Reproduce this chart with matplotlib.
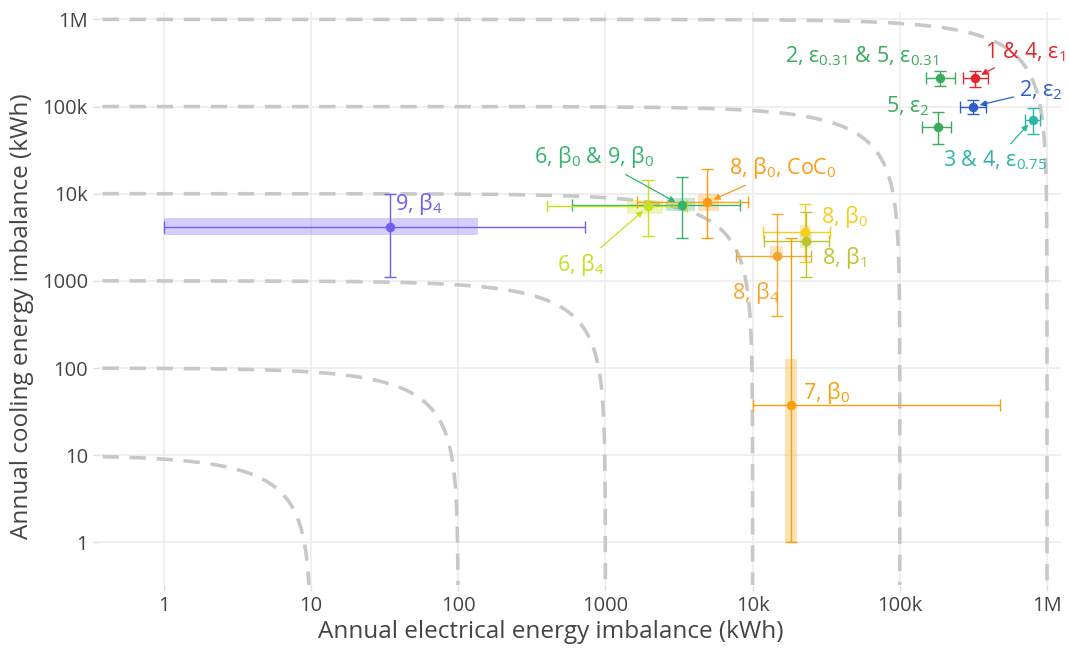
import numpy as np
import matplotlib
matplotlib.use("Agg")
import matplotlib.pyplot as plt
from matplotlib.patches import Rectangle

plt.rcParams['font.family'] = ['Open Sans', 'DejaVu Sans']
plt.rcParams['mathtext.fontset'] = 'custom'
plt.rcParams['mathtext.rm'] = 'Open Sans'
plt.rcParams['mathtext.it'] = 'Open Sans'
plt.rcParams['mathtext.default'] = 'regular'

# ---------------- data ----------------
labels = ["1 & 4, $ε_{1}$", "2, $ε_{2}$", "2, $ε_{0.31}$ & 5, $ε_{0.31}$", "5, $ε_{2}$",
          "3 & 4, $ε_{0.75}$", "6, $β_{0}$ & 9, $β_{0}$", "6, $β_{4}$", "8, $β_{0}$, CoC$_{0}$",
          "8, $β_{0}$", "8, $β_{1}$", "8, $β_{4}$", "7, $β_{0}$", "9, $β_{4}$"]
colors = ["#e3262c", "#2f5fc4", "#3aab5a", "#3aab5a", "#2db5a6", "#33b56c", "#c6e01c",
          "#ff9a12", "#f8cc1c", "#bcc42c", "#f2a630", "#f5a00c", "#6e5ff2"]
x_val = [324e3, 314e3, 187e3, 182e3, 803e3, 3290, 1960, 4920, 22.6e3, 22.9e3, 14.6e3, 18.1e3, 34.5]
y_val = [213e3, 100e3, 210e3, 59e3, 71e3, 7350, 7160, 7960, 3600, 2830, 1910, 38, 4110]
x_lo = [268e3, 256e3, 150e3, 141e3, 707e3, 589, 403, 1650, 11.7e3, 11.9e3, 7770, 10e3, 1.0]
x_hi = [400e3, 385e3, 236e3, 222e3, 896e3, 8150, 3600, 9250, 33.4e3, 33e3, 24.8e3, 479e3, 731]
y_lo = [166e3, 83e3, 170e3, 37e3, 48e3, 3080, 3230, 3080, 1630, 1100, 390, 1.0, 1100]
y_hi = [253e3, 120e3, 253e3, 86e3, 95e3, 15.5e3, 14.2e3, 19e3, 7560, 6100, 5800, 3080, 10e3]
# shaded boxes (None = no box)
box_x_lo = [None, None, None, None, None, 2570, 1410, 4230, 20.9e3, 20.9e3, 13.1e3, 16.5e3, 1.0]
box_x_hi = [None, None, None, None, None, 4080, 2480, 5870, 24.8e3, 25.2e3, 16.2e3, 19.9e3, 137]
box_y_lo = [None, None, None, None, None, 6300, 5900, 6300, 3160, 2360, 1760, 1.0, 3400]
box_y_hi = [None, None, None, None, None, 8900, 8400, 10e3, 4330, 3510, 2490, 126, 5200]

# contour levels: total imbalance x + y = C
levels = [10, 100, 1000, 10e3, 100e3, 1e6]
tick_vals = [1, 10, 100, 1000, 10e3, 100e3, 1e6]
tick_text = ["1", "10", "100", "1000", "10k", "100k", "1M"]

# annotation layout (text centre offset in pixels, arrow or not)
ann_dx = [50, 68, -78, -30, -38, -87, -68, 76, 40, 39, -21, 36, 29]
ann_dy = [26, 16, 22, 20, -41, 48, -59, 34, 15, -17, -37, 12, 23]
ann_arrow = [True, True, False, False, True, True, True, True, False, False, False, False, False]

# ---------------- figure ----------------
W, H = 1069, 653
fig = plt.figure(figsize=(W / 100, H / 100), dpi=100)
ax = fig.add_axes([99 / W, 1 - 585 / H, (1061 - 99) / W, (585 - 12) / H])
ax.set_xscale('log')
ax.set_yscale('log')
ax.set_xlim(10 ** -0.44, 10 ** 6.095)
ax.set_ylim(10 ** -0.49, 10 ** 6.085)

for s in ax.spines.values():
    s.set_visible(False)
ax.set_xticks(tick_vals)
ax.set_xticklabels(tick_text)
ax.set_yticks(tick_vals)
ax.set_yticklabels(tick_text)
ax.minorticks_off()
ax.tick_params(axis='both', colors='#dddddd', labelcolor='#444444', labelsize=14.5,
               length=4, width=1, pad=4)
ax.grid(True, color='#ebebeb', lw=1.1, zorder=0)
ax.set_axisbelow(True)

ax.set_xlabel("Annual electrical energy imbalance (kWh)", fontsize=17.5, color='#444444')
ax.set_ylabel("Annual cooling energy imbalance (kWh)", fontsize=17.5, color='#444444')
ax.xaxis.set_label_coords((551 - 99) / (1061 - 99), -(620 - 585) / (585 - 12))
ax.yaxis.set_label_coords(-(99 - 34) / (1061 - 99), (585 - 316) / (585 - 12))

# iso-lines of total imbalance
for C in levels:
    xa = np.logspace(-0.6, np.log10(C / 2), 400)
    xb = C - np.logspace(np.log10(C / 2), -0.6, 400)
    xs = np.concatenate([xa, xb[1:]])
    ys = C - xs
    ax.plot(xs, ys, color='#c8c8c8', lw=2.6, ls=(0, (4.5, 3.0)), zorder=1)

for i in range(len(labels)):
    c = colors[i]
    if box_x_lo[i] is not None:
        ax.add_patch(Rectangle((box_x_lo[i], box_y_lo[i]), box_x_hi[i] - box_x_lo[i],
                               box_y_hi[i] - box_y_lo[i], facecolor=c, alpha=0.3,
                               edgecolor='none', zorder=2))
    ax.errorbar([x_val[i]], [y_val[i]],
                xerr=[[x_val[i] - x_lo[i]], [x_hi[i] - x_val[i]]],
                yerr=[[y_val[i] - y_lo[i]], [y_hi[i] - y_val[i]]],
                fmt='o', color=c, ms=5.8, elinewidth=1.0, capsize=4.3, capthick=1.0,
                zorder=3)
    ap = None
    if ann_arrow[i]:
        ap = dict(arrowstyle='-|>', color=c, lw=0.9, shrinkA=2, shrinkB=5,
                  mutation_scale=9)
    ax.annotate(labels[i], xy=(x_val[i], y_val[i]), xytext=(ann_dx[i], ann_dy[i]),
                textcoords='offset pixels', ha='center', va='center', fontsize=15.5,
                color=c, arrowprops=ap, annotation_clip=False, zorder=4)

fig.savefig("out.png", dpi=100)
